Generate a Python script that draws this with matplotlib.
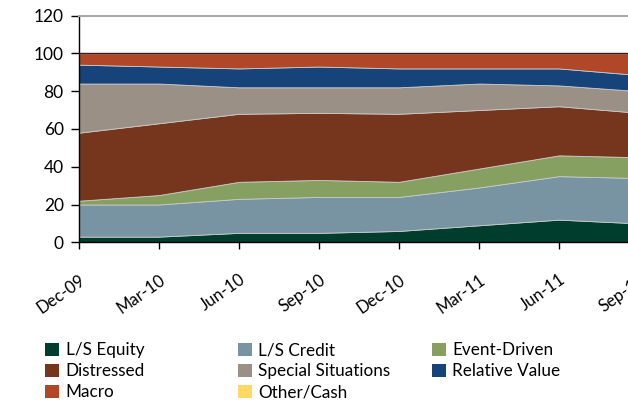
import matplotlib
matplotlib.use("Agg")
import matplotlib.pyplot as plt
from matplotlib.patches import Patch
from matplotlib.transforms import ScaledTranslation

plt.rcParams['font.family'] = ['Lato', 'DejaVu Sans']

quarters = ["Dec-09", "Mar-10", "Jun-10", "Sep-10", "Dec-10", "Mar-11", "Jun-11", "Sep-11"]

ls_equity = [3, 3, 5, 5, 6, 9, 12, 10]
ls_credit = [17, 17, 18, 19, 18, 20, 23, 24]
event_driven = [2, 5, 9, 9, 8, 10, 11, 11]
distressed = [36, 38, 36, 35.5, 36, 31, 26, 23.5]
special_situations = [26, 21, 14, 13.5, 14, 14, 11, 11.5]
relative_value = [10, 9, 10, 11, 10, 8, 9, 8.5]
macro = [6, 7, 8, 7, 8, 8, 8, 11.5]
other_cash = [0, 0, 0, 0, 0, 0, 0, 0]

names = ["L/S Equity", "L/S Credit", "Event-Driven", "Distressed",
         "Special Situations", "Relative Value", "Macro", "Other/Cash"]
series = [ls_equity, ls_credit, event_driven, distressed,
          special_situations, relative_value, macro, other_cash]
colors = ["#003D2C", "#7894A2", "#85A061", "#76361E",
          "#9A9086", "#15437A", "#B04728", "#FFD966"]

fig = plt.figure(figsize=(6.28, 4.03), dpi=100)
ax = fig.add_axes([79 / 628, 160.7 / 403, 560 / 628, 226.8 / 403])

x = list(range(len(quarters)))
ax.stackplot(x, *series, colors=colors, linewidth=0.6, edgecolor="#c9c9c9")

# dark outline along the top of the stack
total = [sum(v) for v in zip(*series)]
ax.plot(x, total, color="#3a1f14", linewidth=1.0, zorder=3)

ax.set_xlim(0, len(quarters) - 1)
ax.set_ylim(0, 120)
ax.set_yticks(range(0, 121, 20))
ax.set_xticks(x)
ax.set_xticklabels(quarters, rotation=35, ha="right", rotation_mode="anchor")

shift = ScaledTranslation(-7 / 100, 0, fig.dpi_scale_trans)
for lab in ax.get_xticklabels():
    lab.set_transform(lab.get_transform() + shift)

for s in ["left", "bottom"]:
    ax.spines[s].set_color("black")
    ax.spines[s].set_linewidth(1.0)
ax.spines["top"].set_color("#a8a8a8")
ax.spines["top"].set_linewidth(1.5)
ax.spines["right"].set_visible(False)

ax.tick_params(axis="y", direction="out", length=6, width=1, labelsize=12.5, pad=5)
ax.tick_params(axis="x", direction="out", length=5, width=1, labelsize=12, pad=16)

handles = [Patch(facecolor=c, edgecolor="none") for c in colors]
columns = [[0, 3, 6], [1, 4, 7], [2, 5]]
col_x = [45 / 628, 238 / 628, 432 / 628]
for cx, idx in zip(col_x, columns):
    fig.legend([handles[i] for i in idx], [names[i] for i in idx],
               loc="upper left", bbox_to_anchor=(cx, 1 - 342 / 403),
               frameon=False, fontsize=12.3, handlelength=0.8, handleheight=0.8,
               handletextpad=0.4, labelspacing=0.3, borderpad=0, borderaxespad=0)

fig.savefig("out.png", dpi=100)
